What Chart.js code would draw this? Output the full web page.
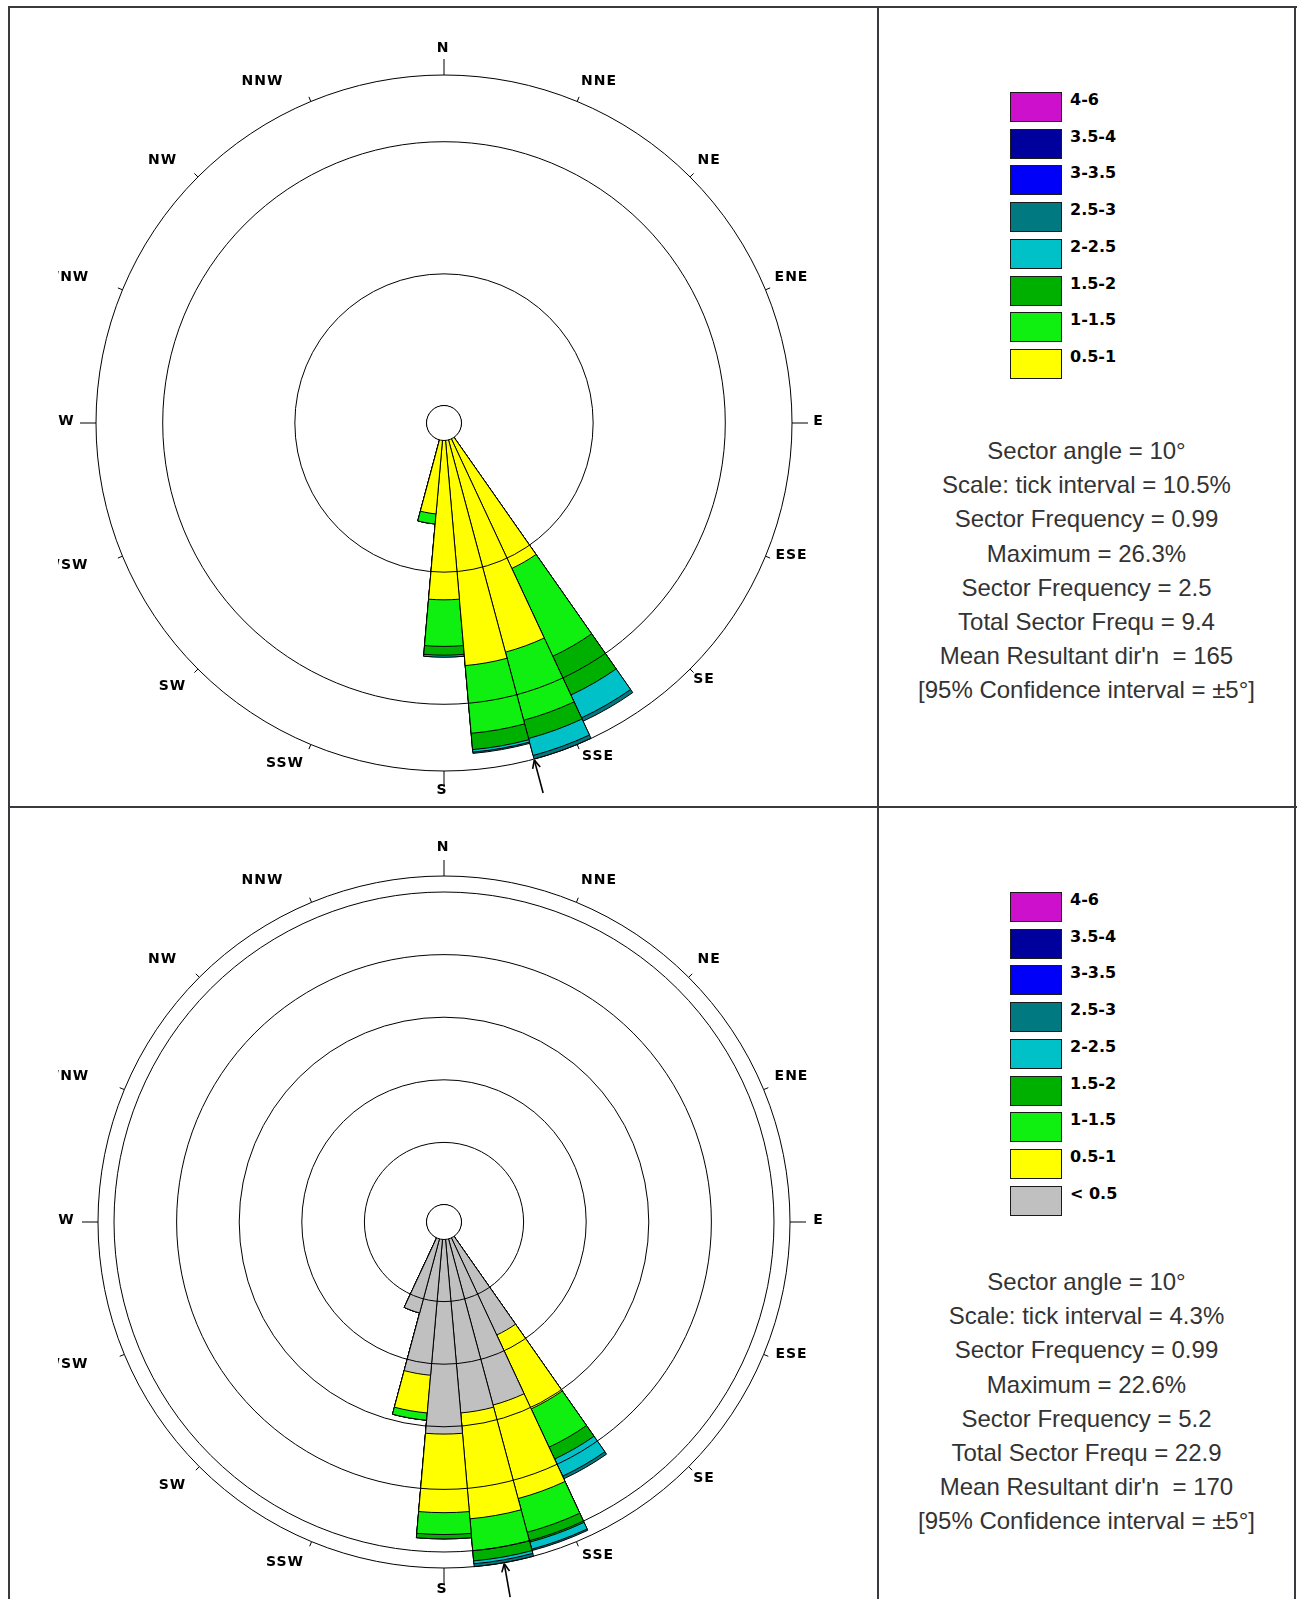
<!DOCTYPE html>
<html>
<head>
<meta charset="utf-8">
<title>Wind roses</title>
<script src="https://cdn.jsdelivr.net/npm/chart.js@4.4.1/dist/chart.umd.min.js"></script>
<style>
  html, body { margin: 0; padding: 0; background: #fff; }
  #page { position: relative; width: 1298px; height: 1599px; overflow: hidden; }
  .rule { position: absolute; background: #3a3a3e; }
  canvas { position: absolute; }
  .key { position: absolute; left: 1010px; width: 50px; height: 28px; border: 1.5px solid #1a1a1a; }
  .keytxt { position: absolute; left: 1070px; font: bold 16px "DejaVu Sans", sans-serif; color: #000; line-height: 18px; }
  .stat { position: absolute; left: 880px; width: 413px; text-align: center; white-space: pre;
          font: 24px "Liberation Sans", Arial, sans-serif; color: #333; line-height: 28px; }
</style>
</head>
<body>
<div id="page">
  <canvas id="upperRose" width="819" height="796" style="left:58px;top:9px;"></canvas>
  <canvas id="lowerRose" width="819" height="790" style="left:58px;top:809px;"></canvas>

  <div class="rule" style="left:8px;top:6px;width:1289px;height:2px;"></div>
  <div class="rule" style="left:8px;top:806px;width:1289px;height:2px;"></div>
  <div class="rule" style="left:8px;top:6px;width:2px;height:1593px;"></div>
  <div class="rule" style="left:877px;top:6px;width:2px;height:1593px;"></div>
  <div class="rule" style="left:1294px;top:6px;width:2px;height:1593px;"></div>
</div>

<script>
// 36 direction sectors of 10 degrees, centred on these bearings
const directions = [0, 10, 20, 30, 40, 50, 60, 70, 80, 90, 100, 110, 120, 130, 140, 150, 160, 170,
                    180, 190, 200, 210, 220, 230, 240, 250, 260, 270, 280, 290, 300, 310, 320, 330, 340, 350];

// Speed classes (legend order, fastest first) and their fill colours
const speedBands  = ['4-6', '3.5-4', '3-3.5', '2.5-3', '2-2.5', '1.5-2', '1-1.5', '0.5-1', '< 0.5'];
const bandColours = ['#cc10cc', '#00009c', '#0000f8', '#007a80', '#00c0c8', '#00b000', '#10f010', '#ffff00', '#c0c0c0'];

// Upper rose: frequency (%) contributed by each speed class, per sector
const upperDirs  = [150, 160, 170, 180, 190];
const upper05to1 = [11.4, 17.5, 18.0, 12.7, 5.9];
const upper1to15 = [7.7, 5.6, 5.4, 3.7, 0.8];
const upper15to2 = [3.4, 1.5, 1.3, 0.7, 0.0];
const upper2to25 = [2.0, 1.4, 0.2, 0.15, 0.0];
const upper25to3 = [0.3, 0.3, 0.1, 0.0, 0.0];
const upperRings = [10.5, 21.0, 26.3];
const upperMax   = 26.3;
const upperMeanDir = 165;
const upperStats = ['Sector angle = 10°', 'Scale: tick interval = 10.5%', 'Sector Frequency = 0.99',
                    'Maximum = 26.3%', 'Sector Frequency = 2.5', 'Total Sector Frequ = 9.4',
                    "Mean Resultant dir'n  = 165", '[95% Confidence interval = ±5°]'];

// Lower rose: same layout, with calms below 0.5 included
const lowerDirs    = [150, 160, 170, 180, 190, 200];
const lowerBelow05 = [7.4, 11.85, 12.0, 13.4, 9.4, 5.3];
const lower05to1   = [5.6, 6.65, 7.3, 5.4, 2.6, 0.0];
const lower1to15   = [2.9, 2.4, 2.2, 1.5, 0.5, 0.0];
const lower15to2   = [0.9, 0.7, 0.7, 0.3, 0.0, 0.0];
const lower2to25   = [1.3, 0.5, 0.2, 0.0, 0.0, 0.0];
const lower25to3   = [0.2, 0.1, 0.2, 0.0, 0.0, 0.0];
const lowerRings = [4.3, 8.6, 12.9, 17.2, 21.5, 22.6];
const lowerMax   = 22.6;
const lowerMeanDir = 170;
const lowerStats = ['Sector angle = 10°', 'Scale: tick interval = 4.3%', 'Sector Frequency = 0.99',
                    'Maximum = 22.6%', 'Sector Frequency = 5.2', 'Total Sector Frequ = 22.9',
                    "Mean Resultant dir'n  = 170", '[95% Confidence interval = ±5°]'];

const compassPoints = ['N', 'NNE', 'NE', 'ENE', 'E', 'ESE', 'SE', 'SSE', 'S', 'SSW', 'SW', 'WSW', 'W', 'WNW', 'NW', 'NNW'];

// ---- layout constants -------------------------------------------------
const HUB_PX = 17;   // radius of the empty centre
const LABEL_OFFSETS = {
  N: [-1.5, -375], NNE: [154.6, -341.4], NE: [264.7, -263], ENE: [347, -146],
  E: [374, -2], ESE: [347, 132], SE: [259.6, 256], SSE: [153.5, 333.6],
  S: [-2.5, 367], SSW: [-159.5, 340.7], SW: [-272, 263], WSW: [-378, 142],
  W: [-378, -2], WNW: [-378, -146], NW: [-282, -263], NNW: [-182, -341.4]
};

// spread per-sector values onto the full circle of 36 sectors
function spread(dirs, vals) {
  return directions.map(d => {
    const k = dirs.indexOf(d);
    return k < 0 ? 0 : vals[k];
  });
}

// stack the classes outwards: bands are given innermost first.
// Chart.js paints dataset 0 last, so the innermost class sits on top.
function buildDatasets(dirs, bands) {
  let running = dirs.map(() => 0);
  return bands.map(b => {
    running = running.map((v, i) => v + b.values[i]);
    return {
      label: b.name,
      data: spread(dirs, running),
      backgroundColor: bandColours[speedBands.indexOf(b.name)],
      borderColor: '#000',
      borderWidth: 1
    };
  });
}

// hub, compass ticks, direction labels and mean-direction arrow
const roseFurniture = {
  id: 'roseFurniture',
  afterDraw(chart, args, opts) {
    const s = chart.scales.r;
    const ctx = chart.ctx;
    const cx = s.xCenter, cy = s.yCenter, R = s.drawingArea;
    const r0 = s.getDistanceFromCenterForValue(0);
    ctx.save();
    ctx.strokeStyle = '#000';
    ctx.lineWidth = 1;

    ctx.beginPath();
    ctx.arc(cx, cy, r0 + 0.5, 0, Math.PI * 2);
    ctx.fillStyle = '#fff';
    ctx.fill();
    ctx.stroke();

    ctx.fillStyle = '#000';
    ctx.font = 'bold 14px "DejaVu Sans", sans-serif';
    ctx.letterSpacing = '1px';
    ctx.textAlign = 'center';
    ctx.textBaseline = 'middle';
    compassPoints.forEach((name, i) => {
      const a = i * 22.5 * Math.PI / 180;
      const sx = Math.sin(a), sy = -Math.cos(a);
      const len = i % 4 === 0 ? 16 : 5;
      ctx.beginPath();
      ctx.moveTo(cx + sx * R, cy + sy * R);
      ctx.lineTo(cx + sx * (R + len), cy + sy * (R + len));
      ctx.stroke();
      const off = LABEL_OFFSETS[name];
      ctx.fillText(name, cx + off[0] + 0.5, cy + off[1]);
    });

    const m = opts.meanDir * Math.PI / 180;
    const ux = Math.sin(m), uy = -Math.cos(m);
    const tipR = R + 1, tailR = R + 35;
    const tx = cx + ux * tipR, ty = cy + uy * tipR;
    ctx.lineWidth = 1.6;
    ctx.beginPath();
    ctx.moveTo(cx + ux * tailR, cy + uy * tailR);
    ctx.lineTo(tx, ty);
    ctx.stroke();
    [0.45, -0.45].forEach(d => {
      const bx = Math.sin(m + d), by = -Math.cos(m + d);
      ctx.beginPath();
      ctx.moveTo(tx, ty);
      ctx.lineTo(tx + bx * 9, ty + by * 9);
      ctx.stroke();
    });
    ctx.restore();
  }
};

function makeRose(id, cfg) {
  const canvas = document.getElementById(id);
  const R = cfg.radius;
  const pad = {
    left: cfg.cx - R,
    right: canvas.width - cfg.cx - R,
    top: cfg.cy - R,
    bottom: canvas.height - cfg.cy - R
  };
  const minVal = -HUB_PX * cfg.max / (R - HUB_PX);
  return new Chart(canvas, {
    type: 'polarArea',
    data: { labels: directions.map(String), datasets: buildDatasets(cfg.dirs, cfg.bands) },
    options: {
      responsive: false,
      animation: false,
      devicePixelRatio: 1,
      events: [],
      layout: { padding: pad },
      plugins: {
        legend: { display: false },
        tooltip: { enabled: false },
        roseFurniture: { meanDir: cfg.meanDir }
      },
      scales: {
        r: {
          min: minVal,
          max: cfg.max,
          startAngle: -5,
          ticks: { display: false },
          angleLines: { display: false },
          pointLabels: { display: false },
          grid: { circular: true, color: '#000', lineWidth: 1, z: 1 },
          afterBuildTicks: axis => { axis.ticks = cfg.rings.map(v => ({ value: v })); }
        }
      }
    },
    plugins: [roseFurniture]
  });
}

makeRose('upperRose', {
  dirs: upperDirs, max: upperMax, rings: upperRings, meanDir: upperMeanDir,
  cx: 386, cy: 414, radius: 348,
  bands: [
    { name: '0.5-1', values: upper05to1 },
    { name: '1-1.5', values: upper1to15 },
    { name: '1.5-2', values: upper15to2 },
    { name: '2-2.5', values: upper2to25 },
    { name: '2.5-3', values: upper25to3 }
  ]
});

makeRose('lowerRose', {
  dirs: lowerDirs, max: lowerMax, rings: lowerRings, meanDir: lowerMeanDir,
  cx: 386, cy: 413, radius: 346,
  bands: [
    { name: '< 0.5', values: lowerBelow05 },
    { name: '0.5-1', values: lower05to1 },
    { name: '1-1.5', values: lower1to15 },
    { name: '1.5-2', values: lower15to2 },
    { name: '2-2.5', values: lower2to25 },
    { name: '2.5-3', values: lower25to3 }
  ]
});

// legend keys and summary text for each panel
const page = document.getElementById('page');
function addPanelText(keyTop, keyCount, statTop, stats) {
  for (let i = 0; i < keyCount; i++) {
    const y = keyTop + i * 36.7;
    const box = document.createElement('div');
    box.className = 'key';
    box.style.top = y + 'px';
    box.style.background = bandColours[i];
    page.appendChild(box);
    const t = document.createElement('div');
    t.className = 'keytxt';
    t.style.top = (y - 1) + 'px';
    t.textContent = speedBands[i];
    page.appendChild(t);
  }
  stats.forEach((line, i) => {
    const d = document.createElement('div');
    d.className = 'stat';
    d.style.top = (statTop + i * 34.2 - 14) + 'px';
    d.textContent = line;
    page.appendChild(d);
  });
}
addPanelText(92, 8, 451, upperStats);
addPanelText(892, 9, 1282, lowerStats);
</script>
</body>
</html>
